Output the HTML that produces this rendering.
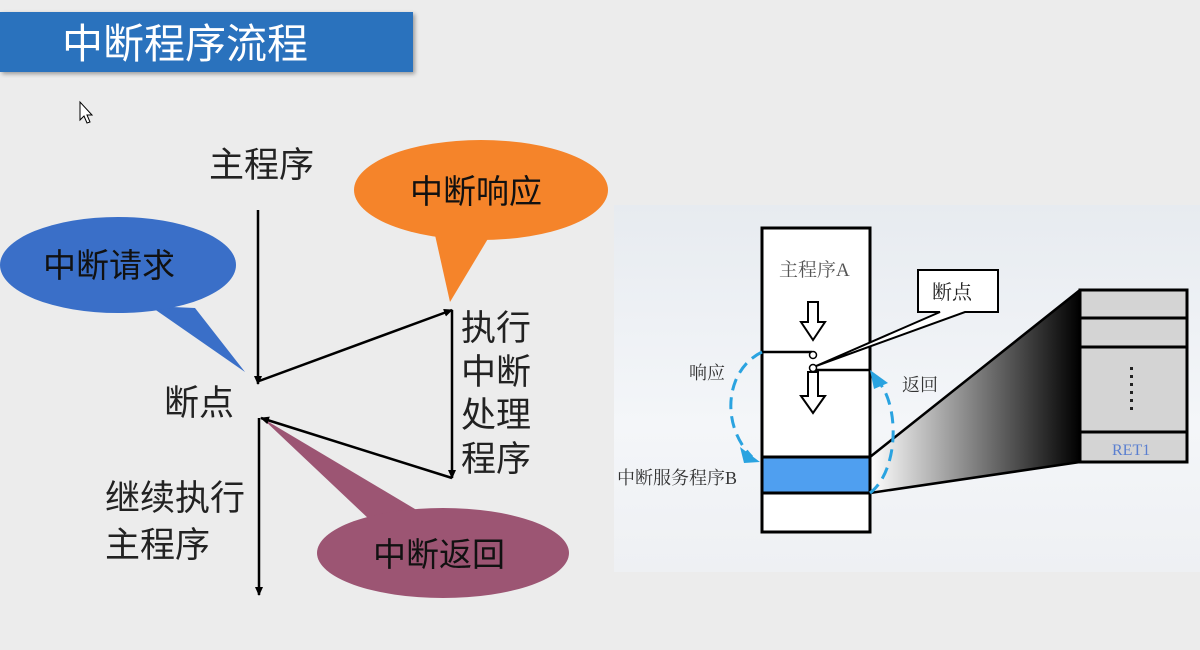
<!DOCTYPE html>
<html><head><meta charset="utf-8"><style>
html,body{margin:0;padding:0;background:#ececec;}
svg{display:block;font-family:"Liberation Sans","Noto Sans CJK SC",sans-serif;}
</style></head><body>
<svg width="1200" height="650" viewBox="0 0 1200 650" xmlns="http://www.w3.org/2000/svg">
<defs>
<marker id="ah" markerWidth="10" markerHeight="10" refX="8" refY="4" orient="auto" markerUnits="userSpaceOnUse"><path d="M0,0 L9,4 L0,8 z" fill="#000"/></marker>
<linearGradient id="bg2" x1="0" y1="0" x2="0" y2="1"><stop offset="0" stop-color="#e7ebf0"/><stop offset="0.6" stop-color="#f4f6f9"/><stop offset="1" stop-color="#eef0f3"/></linearGradient>
<linearGradient id="tr" x1="0" y1="0" x2="1" y2="0"><stop offset="0" stop-color="#ffffff"/><stop offset="1" stop-color="#000"/></linearGradient>
<filter id="sh"><feDropShadow dx="2" dy="2" stdDeviation="2" flood-color="#000" flood-opacity="0.35"/></filter>
</defs>
<rect width="1200" height="650" fill="#ececec"/>
<rect x="0" y="12" width="413" height="60" fill="#2a72bd" filter="url(#sh)"/>
<text x="62" y="58" font-size="41" fill="#fff">中断程序流程</text>
<path d="M80,102 L80,120 L84,116 L87,123 L90,122 L87,115 L92,115 Z" fill="#fff" stroke="#000" stroke-width="1"/>

<path d="M150,306 L245,372 L195,308 Z" fill="#3a6fc8"/>
<ellipse cx="118" cy="265" rx="118" ry="48" fill="#3a6fc8"/>
<text x="43" y="277" font-size="33" fill="#111">中断请求</text>

<path d="M435,235 L450,302 L492,232 Z" fill="#f5842a"/>
<ellipse cx="481" cy="190" rx="127" ry="50" fill="#f5842a"/>
<text x="410" y="203" font-size="33" fill="#111">中断响应</text>

<path d="M262,418 L370,520 L420,512 Z" fill="#9c5573"/>
<ellipse cx="443" cy="553" rx="126" ry="45" fill="#9c5573"/>
<text x="373" y="566" font-size="33" fill="#111">中断返回</text>

<g stroke="#000" stroke-width="2.5" fill="none">
<line x1="258" y1="210" x2="258" y2="384" marker-end="url(#ah)"/>
<line x1="259" y1="381" x2="452" y2="310" marker-end="url(#ah)"/>
<line x1="452" y1="310" x2="452" y2="478" marker-end="url(#ah)"/>
<line x1="452" y1="478" x2="261" y2="418" marker-end="url(#ah)"/>
<line x1="259" y1="418" x2="259" y2="595" marker-end="url(#ah)"/>
</g>
<g font-size="35" fill="#222">
<text x="209" y="177">主程序</text>
<text x="164" y="415">断点</text>
<text x="461" y="340">执行</text>
<text x="461" y="384">中断</text>
<text x="461" y="427">处理</text>
<text x="461" y="471">程序</text>
<text x="105" y="510">继续执行</text>
<text x="105" y="557">主程序</text>
</g>

<rect x="614" y="205" width="586" height="367" fill="url(#bg2)"/>
<path d="M870,457 L1080,290 L1080,462 L870,493 Z" fill="url(#tr)"/>
<path d="M870,457 L1080,290 M870,493 L1080,462" stroke="#000" stroke-width="2.5"/>
<rect x="762" y="228" width="108" height="304" fill="#fff" stroke="#000" stroke-width="3"/>
<rect x="762" y="457" width="108" height="36" fill="#4f9ff0" stroke="#000" stroke-width="3"/>
<path d="M762,352 L812,352 M814,370 L870,370" stroke="#000" stroke-width="2.5"/>
<circle cx="813" cy="355" r="3.5" fill="#fff" stroke="#000" stroke-width="1.5"/>
<circle cx="813" cy="368" r="3.5" fill="#fff" stroke="#000" stroke-width="1.5"/>
<path d="M808,302 L818,302 L818,322 L825,322 L813,340 L801,322 L808,322 Z" fill="#fff" stroke="#000" stroke-width="2"/>
<path d="M808,372 L818,372 L818,396 L825,396 L813,413 L801,396 L808,396 Z" fill="#fff" stroke="#000" stroke-width="2"/>
<text x="779" y="276" font-size="19" fill="#555" font-family="Liberation Serif,Noto Serif CJK SC,serif">主程序A</text>
<path d="M918,270 L998,270 L998,312 L965,312 L816,366 L940,312 L918,312 Z" fill="#fff" stroke="#000" stroke-width="2"/>
<text x="932" y="299" font-size="20" fill="#222" font-family="Liberation Serif,Noto Serif CJK SC,serif">断点</text>
<rect x="1080" y="290" width="107" height="172" fill="#d4d4d4" stroke="#000" stroke-width="3"/>
<path d="M1080,318 L1187,318 M1080,347 L1187,347 M1080,432 L1187,432" stroke="#000" stroke-width="3"/>
<g fill="#222"><rect x="1130" y="367" width="3" height="3"/><rect x="1130" y="375" width="3" height="3"/><rect x="1130" y="383" width="3" height="3"/><rect x="1130" y="391" width="3" height="3"/><rect x="1130" y="399" width="3" height="3"/><rect x="1130" y="407" width="3" height="3"/></g>
<text x="1112" y="455" font-size="16" fill="#5a7fd0" font-family="Liberation Serif,serif">RET1</text>
<path d="M762,352 C725,370 720,425 752,457" stroke="#2aa3e0" stroke-width="3" fill="none" stroke-dasharray="12,7"/>
<path d="M740,447 L760,462 L744,463 Z" fill="#2aa3e0"/>
<path d="M870,493 C900,470 900,400 875,378" stroke="#2aa3e0" stroke-width="3" fill="none" stroke-dasharray="12,7"/>
<path d="M870,370 L888,383 L874,389 Z" fill="#2aa3e0"/>
<g font-size="18" fill="#333" font-family="Liberation Serif,Noto Serif CJK SC,serif">
<text x="689" y="379">响应</text>
<text x="902" y="391">返回</text>
<text x="617" y="484">中断服务程序B</text>
</g>
</svg>
</body></html>
